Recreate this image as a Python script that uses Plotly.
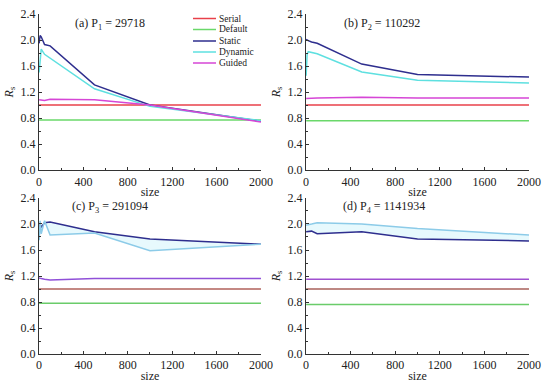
import plotly.graph_objects as go

sizes = [1, 10, 20, 50, 100, 500, 1000, 2000]

panel_titles = ["(a) P<sub>1</sub> = 29718", "(b) P<sub>2</sub> = 110292",
                "(c) P<sub>3</sub> = 291094", "(d) P<sub>4</sub> = 1141934"]

serial = [[1.0] * 8, [1.0] * 8, [1.0] * 8, [1.0] * 8]
default = [[0.77] * 8, [0.76] * 8, [0.78] * 8, [0.76] * 8]
static = [
    [1.95, 2.07, 2.05, 1.93, 1.91, 1.31, 1.00, 0.75],
    [2.01, 2.00, 1.99, 1.97, 1.95, 1.63, 1.47, 1.43],
    [1.80, 2.00, 1.95, 2.02, 2.03, 1.88, 1.77, 1.69],
    [1.88, 1.88, 1.89, 1.89, 1.85, 1.88, 1.77, 1.74],
]
dynamic = [
    [1.50, 1.75, 1.86, 1.78, 1.72, 1.25, 0.98, 0.76],
    [1.45, 1.78, 1.82, 1.81, 1.79, 1.51, 1.38, 1.34],
    [1.75, 2.05, 1.85, 2.05, 1.83, 1.86, 1.59, 1.69],
    [1.98, 1.98, 1.99, 2.00, 2.02, 2.00, 1.93, 1.83],
]
guided = [
    [1.08, 1.08, 1.07, 1.07, 1.09, 1.08, 1.00, 0.74],
    [1.10, 1.10, 1.11, 1.11, 1.11, 1.12, 1.11, 1.11],
    [1.17, 1.17, 1.16, 1.15, 1.14, 1.16, 1.16, 1.16],
    [1.15, 1.15, 1.15, 1.15, 1.15, 1.15, 1.15, 1.15],
]

x_ticks = [0, 400, 800, 1200, 1600, 2000]
y_ticks = [0.0, 0.4, 0.8, 1.2, 1.6, 2.0, 2.4]
y_tick_text = ["0.0", "0.4", "0.8", "1.2", "1.6", "2.0", "2.4"]

serial_col = ["#e8404a", "#e8404a", "#b0605a", "#a8605a"]
default_col = ["#6ad86a", "#6ad86a", "#6acc6a", "#6acc6a"]
static_col = ["#2e2e8e", "#2e2e8e", "#2e2e8e", "#2e2e8e"]
dynamic_col = ["#5ee0e0", "#5ee0e0", "#8ccbe8", "#8ccbe8"]
guided_col = ["#d646d6", "#d646d6", "#9050d8", "#a050d0"]

xdoms = [[0.0709, 0.4745], [0.5564, 0.9618], [0.0709, 0.4745], [0.5564, 0.9618]]
ydoms = [[0.557, 0.9635], [0.557, 0.9635], [0.0781, 0.4844], [0.0781, 0.4844]]
title_x = [640, 680, 640, 700]
title_y = [2.25, 2.25, 2.26, 2.26]

FONT = "Liberation Serif"
fig = go.Figure()
names = ["Serial", "Default", "Static", "Dynamic", "Guided"]

for i in range(4):
    sfx = "" if i == 0 else str(i + 1)
    xa, ya = "x" + sfx, "y" + sfx
    series = [serial[i], default[i], static[i], dynamic[i], guided[i]]
    cols = [serial_col[i], default_col[i], static_col[i], dynamic_col[i], guided_col[i]]
    if i >= 2:
        fig.add_trace(go.Scatter(x=sizes, y=static[i], xaxis=xa, yaxis=ya, mode="lines",
                                 line=dict(width=0), showlegend=False, hoverinfo="skip"))
        fig.add_trace(go.Scatter(x=sizes, y=dynamic[i], xaxis=xa, yaxis=ya, mode="lines",
                                 line=dict(width=0), fill="tonexty",
                                 fillcolor="rgba(215,245,252,0.6)", showlegend=False,
                                 hoverinfo="skip"))
    for k in range(5):
        fig.add_trace(go.Scatter(
            x=sizes, y=series[k], xaxis=xa, yaxis=ya, mode="lines", name=names[k],
            line=dict(color=cols[k], width=1.5), showlegend=False))
    axcommon = dict(showline=True, linecolor="#333", linewidth=1, ticks="inside",
                    ticklen=3, tickcolor="#333", showgrid=False, zeroline=False,
                    tickfont=dict(family=FONT, size=12, color="#222"), mirror=False,
                    automargin=False)
    fig.layout["xaxis" + sfx] = dict(
        domain=xdoms[i], anchor=ya, range=[0, 2000], tickvals=x_ticks,
        minor=dict(dtick=200, ticks="inside", ticklen=2, tickcolor="#333"),
        title=dict(text="size", font=dict(family=FONT, size=12, color="#222"), standoff=0),
        **axcommon)
    fig.layout["yaxis" + sfx] = dict(
        domain=ydoms[i], anchor=xa, range=[0, 2.4], tickvals=y_ticks, ticktext=y_tick_text,
        minor=dict(dtick=0.2, ticks="inside", ticklen=2, tickcolor="#333"),
        title=dict(text="<i>R</i><sub>s</sub>", font=dict(family=FONT, size=12, color="#222"),
                   standoff=4),
        **axcommon)
    fig.add_annotation(text=panel_titles[i], x=title_x[i], y=title_y[i], xref=xa, yref=ya,
                       xanchor="center", yanchor="middle", showarrow=False,
                       font=dict(family=FONT, size=12, color="#222"))

# manual legend in panel (a)
leg_y = [18.5, 29.5, 41, 52, 63]
leg_cols = [serial_col[0], default_col[0], static_col[0], dynamic_col[0], guided_col[0]]
for k in range(5):
    yp = 1 - leg_y[k] / 384
    fig.add_shape(type="line", xref="paper", yref="paper", x0=193 / 550, x1=216 / 550,
                  y0=yp, y1=yp, line=dict(color=leg_cols[k], width=1.5))
    fig.add_annotation(text=names[k], xref="paper", yref="paper", x=217 / 550, y=yp,
                       xanchor="left", yanchor="middle", showarrow=False,
                       font=dict(family=FONT, size=9.5, color="#222"))

fig.update_layout(
    width=550, height=384, margin=dict(l=0, r=0, t=0, b=0),
    paper_bgcolor="white", plot_bgcolor="white", showlegend=False,
)
fig.write_html("out.html", config={"displayModeBar": False},
               post_script="document.body.style.margin='0';document.body.style.padding='0';")
